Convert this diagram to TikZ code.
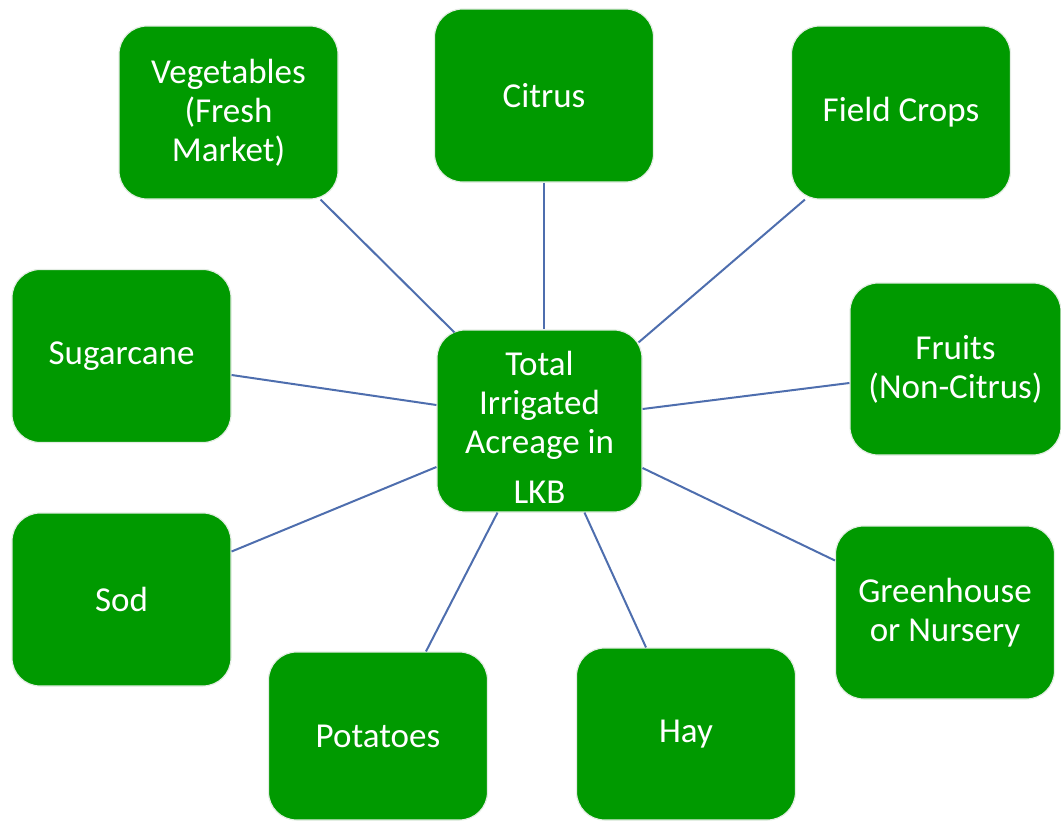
\documentclass[tikz,border=0pt]{standalone}
\usepackage{fontspec}
\setmainfont{Carlito}
\definecolor{boxgreen}{HTML}{009A00}
\definecolor{linkblue}{HTML}{4E6EAE}
\definecolor{edgegrey}{HTML}{E4EDE4}
\begin{document}
\begin{tikzpicture}[x=1pt,y=-1pt,
  crop/.style={draw=edgegrey,line width=1.2pt,fill=boxgreen,rounded corners=28pt,
    minimum width=219pt,minimum height=173pt,inner sep=0pt,align=center,
    text=white,font=\fontsize{35}{39}\selectfont},
  link/.style={draw=linkblue,line width=2pt}]
\useasboundingbox (0,0) rectangle (1061,822);
\node[crop] (veg) at (228.5,112.5) {Vegetables\\(Fresh\\Market)};
\node[crop] (cit) at (544,95.5) {Citrus};
\node[crop] (fld) at (901,112.5) {Field Crops};
\node[crop] (sug) at (121.5,356) {Sugarcane};
\node[crop,minimum width=205pt,minimum height=182pt] (ctr) at (539.5,421) {\rule{0pt}{36pt}Total\\Irrigated\\Acreage in\\[11pt]LKB};
\node[crop,minimum width=211pt,minimum height=172pt] (fru) at (955.5,369) {Fruits\\(Non-Citrus)};
\node[crop] (sod) at (121.5,599.5) {Sod};
\node[crop] (grn) at (945,612.5) {Greenhouse\\or Nursery};
\node[crop,minimum height=168pt] (pot) at (378,736) {Potatoes};
\node[crop,minimum height=172pt] (hay) at (686,734) {Hay};
\draw[link] ([xshift=-18pt]veg.south east) -- ([xshift=18pt,yshift=-3pt]ctr.north west);
\draw[link] (cit.south) -- (cit.south |- ctr.north);
\draw[link] ([xshift=14pt]fld.south west) -- ([xshift=-4pt,yshift=-13pt]ctr.north east);
\draw[link] ([yshift=-19pt]sug.east) -- ([yshift=16pt]ctr.west);
\draw[link] ([yshift=-14pt]fru.west) -- ([yshift=12pt]ctr.east);
\draw[link] ([yshift=48pt]sod.east) -- ([yshift=-46pt]ctr.west);
\draw[link] ([yshift=52pt]grn.west) -- ([yshift=-47pt]ctr.east);
\draw[link] ([xshift=48pt]pot.north) -- ([xshift=-42pt]ctr.south);
\draw[link] ([xshift=-40pt]hay.north) -- ([xshift=45pt]ctr.south);
\end{tikzpicture}
\end{document}
